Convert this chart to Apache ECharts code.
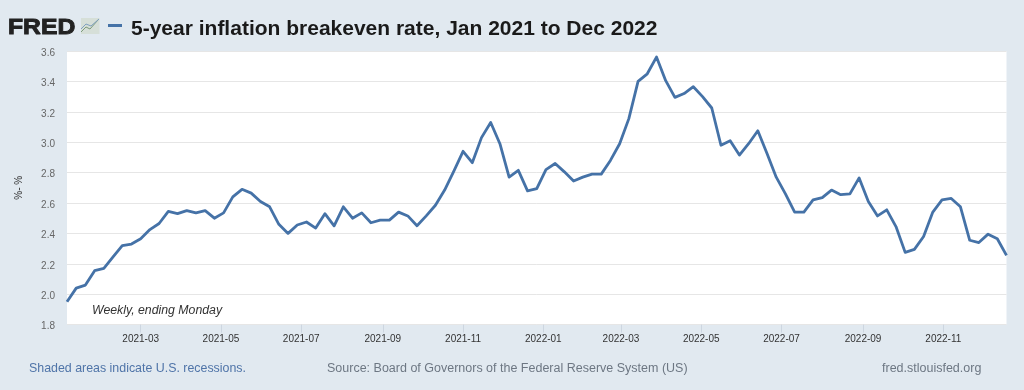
<!DOCTYPE html>
<html><head><meta charset="utf-8">
<style>html,body{margin:0;padding:0;background:#e1e9f0}#c{width:1024px;height:390px}</style>
<script src="https://cdn.jsdelivr.net/npm/echarts@6/dist/echarts.min.js"></script>
</head><body><div id="c"></div>
<script>
const titleText = '5-year inflation breakeven rate, Jan 2021 to Dec 2022';
const firstDate = '2021-01-04';
const values = [
1.95,2.04,2.06,2.155,2.17,2.245,2.32,2.33,2.365,2.425,
2.465,2.545,2.53,2.55,2.535,2.55,2.50,2.535,2.64,2.69,
2.665,2.61,2.575,2.46,2.40,2.455,2.475,2.435,2.53,2.45,
2.575,2.50,2.535,2.47,2.487,2.487,2.54,2.515,2.45,2.515,
2.585,2.685,2.81,2.94,2.865,3.03,3.13,2.99,2.77,2.815,
2.68,2.695,2.82,2.86,2.805,2.745,2.77,2.79,2.79,2.88,
2.99,3.155,3.40,3.45,3.56,3.405,3.295,3.32,3.365,3.30,
3.225,2.98,3.01,2.915,2.99,3.075,2.925,2.77,2.66,2.54,
2.54,2.62,2.635,2.685,2.655,2.66,2.765,2.61,2.515,2.555,
2.445,2.275,2.295,2.38,2.54,2.62,2.63,2.575,2.355,2.34,
2.395,2.365,2.255];
const xTicks = ['2021-03-01','2021-05-01','2021-07-01','2021-09-01','2021-11-01','2022-01-01','2022-03-01','2022-05-01','2022-07-01','2022-09-01','2022-11-01'];

const DAY = 86400000, WEEK = 7 * DAY;
const toTime = s => Date.parse(s + 'T00:00:00Z');
const t0 = toTime(firstDate);
const points = values.map((v,i)=>[t0 + i*WEEK, v]);
const tickTimes = xTicks.map(toTime);
const fam = '"Liberation Sans",Arial,sans-serif';

const chart = echarts.init(document.getElementById('c'),null,{renderer:'canvas'});
chart.setOption({
  animation:false,
  backgroundColor:'#e1e9f0',
  grid:{left:67,right:17.5,top:51,bottom:65.4,show:true,backgroundColor:'#ffffff',borderWidth:0},
  xAxis:{type:'value',min:points[0][0],max:points[points.length-1][0],
    axisLine:{show:false},
    splitLine:{show:false},
    axisTick:{show:true,length:8,customValues:tickTimes,lineStyle:{color:'#cdd6e0',width:1}},
    axisLabel:{show:true,customValues:tickTimes,margin:10,fontFamily:fam,fontSize:10,color:'#333',hideOverlap:false,
      formatter:(v)=>{const d=new Date(v);return d.getUTCFullYear()+'-'+String(d.getUTCMonth()+1).padStart(2,'0');}}
  },
  yAxis:{type:'value',min:1.8,max:3.6,interval:0.2,
    name:'%- %',nameLocation:'middle',nameGap:43,nameRotate:90,
    nameTextStyle:{fontFamily:fam,fontSize:10,color:'#333'},
    axisLine:{show:false},axisTick:{show:false},
    axisLabel:{margin:12,fontFamily:fam,fontSize:10,color:'#666',formatter:v=>'{a|'+v.toFixed(1)+'}',
      rich:{a:{fontFamily:fam,fontSize:10,color:'#666',padding:[4,0,0,0]}}},
    splitLine:{show:true,lineStyle:{color:'#e6e6e6',width:1}}
  },
  series:[{type:'line',data:points,showSymbol:false,symbol:'none',smooth:false,clip:false,
    lineStyle:{color:'#4572a7',width:2.8,join:'round'},z:3}],
  graphic:[
    {type:'text',x:8,y:16.5,scaleX:1.1,style:{text:'FRED',fontFamily:fam,fontSize:22.5,fontWeight:900,fill:'#222',stroke:'#222',lineWidth:0.9}},
    {type:'rect',shape:{x:81,y:18,width:18.5,height:16},style:{fill:'#d6dfd8'}},
    {type:'polyline',shape:{points:[[81,32],[86,27],[90,29],[98,20]]},style:{stroke:'#7d9a7b',fill:null,lineWidth:1}},
    {type:'polyline',shape:{points:[[81,29],[86,24],[91,26],[99,19]]},style:{stroke:'#7fa0bf',fill:null,lineWidth:1}},
    {type:'rect',shape:{x:108,y:24,width:14,height:3},style:{fill:'#4572a7'}},
    {type:'text',left:131,top:18.5,style:{text:titleText,fontFamily:fam,fontSize:21,fontWeight:'bold',fill:'#1a1a1a'}},
    {type:'text',left:92,top:304.5,style:{text:'Weekly, ending Monday',fontFamily:fam,fontSize:12.3,fontStyle:'italic',fill:'#333'}},
    {type:'text',left:29,top:362.6,style:{text:'Shaded areas indicate U.S. recessions.',fontFamily:fam,fontSize:12.4,fill:'#4f74a8'}},
    {type:'text',left:327,top:362,style:{text:'Source: Board of Governors of the Federal Reserve System (US)',fontFamily:fam,fontSize:12.5,fill:'#6d7783'}},
    {type:'text',left:882,top:362,style:{text:'fred.stlouisfed.org',fontFamily:fam,fontSize:12.5,fill:'#6d7783'}}
  ]
});
</script></body></html>
